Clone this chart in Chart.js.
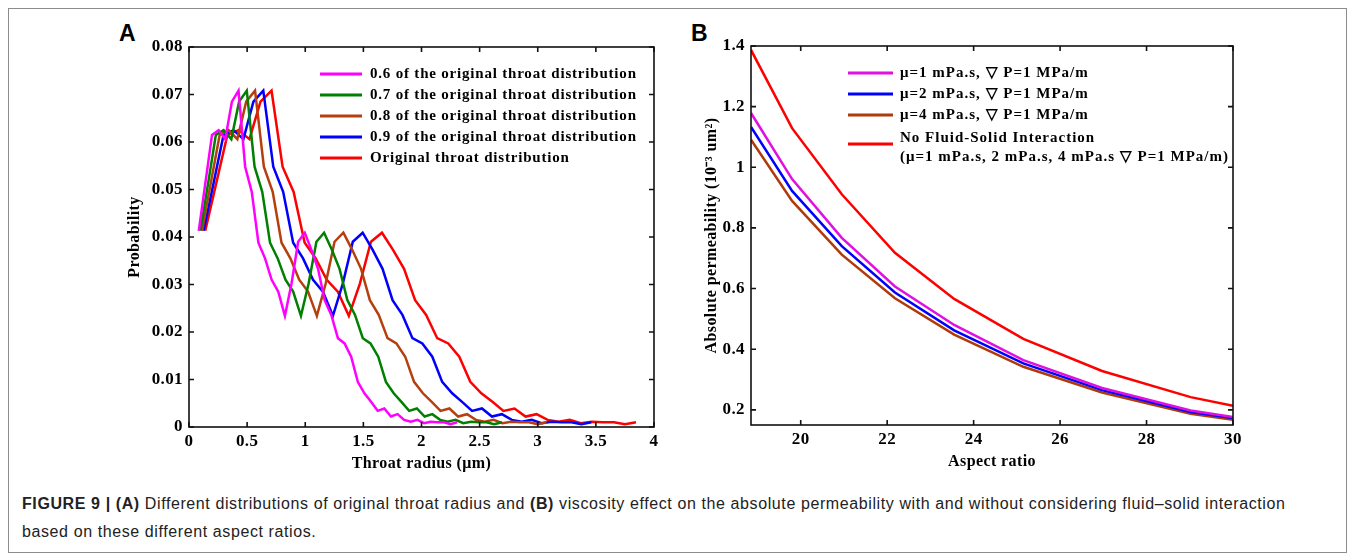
<!DOCTYPE html>
<html>
<head>
<meta charset="utf-8">
<script src="https://cdn.jsdelivr.net/npm/chart.js@4.4.1/dist/chart.umd.min.js"></script>
<style>
  body { margin: 0; background: #fff; width: 1354px; height: 560px; position: relative; overflow: hidden; }
  #frame { position: absolute; left: 8px; top: 8px; width: 1337px; height: 543px; border: 1px solid #8c8c8c; }
  .tag { position: absolute; font: bold 23px "Liberation Sans", Arial, sans-serif; color: #000; }
  #wrapA { position: absolute; left: 0; top: 0; width: 680px; height: 480px; }
  #wrapB { position: absolute; left: 680px; top: 0; width: 674px; height: 480px; }
  #caption { position: absolute; left: 22px; top: 490px; font: 16px/28px "Liberation Sans", Arial, sans-serif; letter-spacing: 0.6px; color: #222; white-space: nowrap; }
</style>
</head>
<body>
<div id="frame"></div>
<div class="tag" style="left:119px;top:20px">A</div>
<div class="tag" style="left:691px;top:20px">B</div>
<div id="wrapA"><canvas id="chartA"></canvas></div>
<div id="wrapB"><canvas id="chartB"></canvas></div>
<div id="caption"><b>FIGURE 9 | (A)</b> Different distributions of original throat radius and <b>(B)</b> viscosity effect on the absolute permeability with and without considering fluid–solid interaction<br>based on these different aspect ratios.</div>
<script>
// panel A: throat radius (um) for each scaled distribution, shared probabilities
const radius06 = [0.084, 0.141, 0.198, 0.255, 0.312, 0.369, 0.426, 0.483, 0.54, 0.597, 0.654, 0.711, 0.768, 0.825, 0.882, 0.939, 0.996, 1.053, 1.11, 1.167, 1.224, 1.281, 1.338, 1.395, 1.452, 1.509, 1.566, 1.623, 1.68, 1.737, 1.794, 1.851, 1.908, 1.965, 2.022, 2.079, 2.136, 2.193, 2.25, 2.307];
const radius07 = [0.098, 0.165, 0.231, 0.298, 0.364, 0.431, 0.497, 0.564, 0.63, 0.697, 0.763, 0.83, 0.896, 0.963, 1.029, 1.096, 1.162, 1.229, 1.295, 1.362, 1.428, 1.495, 1.561, 1.628, 1.694, 1.761, 1.827, 1.894, 1.96, 2.027, 2.093, 2.16, 2.226, 2.293, 2.359, 2.426, 2.492, 2.559, 2.625, 2.692];
const radius08 = [0.112, 0.188, 0.264, 0.34, 0.416, 0.492, 0.568, 0.644, 0.72, 0.796, 0.872, 0.948, 1.024, 1.1, 1.176, 1.252, 1.328, 1.404, 1.48, 1.556, 1.632, 1.708, 1.784, 1.86, 1.936, 2.012, 2.088, 2.164, 2.24, 2.316, 2.392, 2.468, 2.544, 2.62, 2.696, 2.772, 2.848, 2.924, 3.0, 3.076];
const radius09 = [0.126, 0.212, 0.297, 0.383, 0.468, 0.554, 0.639, 0.725, 0.81, 0.896, 0.981, 1.067, 1.152, 1.238, 1.323, 1.409, 1.494, 1.58, 1.665, 1.751, 1.836, 1.922, 2.007, 2.093, 2.178, 2.264, 2.349, 2.435, 2.52, 2.606, 2.691, 2.777, 2.862, 2.948, 3.033, 3.119, 3.204, 3.29, 3.375, 3.461];
const radiusOrig = [0.14, 0.235, 0.33, 0.425, 0.52, 0.615, 0.71, 0.805, 0.9, 0.995, 1.09, 1.185, 1.28, 1.375, 1.47, 1.565, 1.66, 1.755, 1.85, 1.945, 2.04, 2.135, 2.23, 2.325, 2.42, 2.515, 2.61, 2.705, 2.8, 2.895, 2.99, 3.085, 3.18, 3.275, 3.37, 3.465, 3.56, 3.655, 3.75, 3.845];
const probability = [0.0413, 0.0514, 0.0615, 0.0625, 0.0606, 0.0685, 0.0708, 0.0548, 0.0495, 0.0388, 0.0355, 0.031, 0.0285, 0.0234, 0.0302, 0.039, 0.0409, 0.0373, 0.0333, 0.0267, 0.0236, 0.0187, 0.0176, 0.0148, 0.0095, 0.0071, 0.0053, 0.0034, 0.0039, 0.0022, 0.0027, 0.0015, 0.0011, 0.0015, 0.0008, 0.0011, 0.001, 0.001, 0.0006, 0.001];
const labelsA = ["0.6 of the original throat distribution", "0.7 of the original throat distribution", "0.8 of the original throat distribution", "0.9 of the original throat distribution", "Original throat distribution"];
const xTicksA = [0, 0.5, 1, 1.5, 2, 2.5, 3, 3.5, 4];
const yTicksA = [0, 0.01, 0.02, 0.03, 0.04, 0.05, 0.06, 0.07, 0.08];

// panel B: aspect ratio vs absolute permeability
const aspect = [18.85, 19.8, 20.95, 22.18, 23.55, 25.15, 26.97, 29.02, 30];
const perm1 = [1.179, 0.961, 0.767, 0.607, 0.48, 0.364, 0.272, 0.198, 0.176];
const perm2 = [1.133, 0.922, 0.74, 0.587, 0.462, 0.353, 0.265, 0.193, 0.173];
const perm4 = [1.091, 0.889, 0.712, 0.568, 0.448, 0.342, 0.257, 0.187, 0.167];
const permNoFSI = [1.387, 1.129, 0.911, 0.718, 0.566, 0.434, 0.328, 0.242, 0.213];
const labelsB = ["μ=1 mPa.s, ▽ P=1 MPa/m", "μ=2 mPa.s, ▽ P=1 MPa/m", "μ=4 mPa.s, ▽ P=1 MPa/m", "No Fluid-Solid Interaction", "(μ=1 mPa.s, 2 mPa.s, 4 mPa.s ▽ P=1 MPa/m)"];
const xTicksB = [20, 22, 24, 26, 28, 30];
const yTicksB = [0.2, 0.4, 0.6, 0.8, 1, 1.2, 1.4];

const serif = '"Liberation Serif", "Times New Roman", serif';
const pts = (xs, ys) => xs.map((x, i) => ({ x: x, y: ys[i] }));

// slightly spaced lettering like the matlab export
const spacing = {
  id: "spacing",
  beforeDraw(chart) { chart.ctx.letterSpacing = "0.4px"; },
};

// box round the plot area with inward ticks on all four sides
const boxTicks = {
  id: "boxTicks",
  afterDatasetsDraw(chart) {
    const { ctx, chartArea: a, scales } = chart;
    ctx.save();
    ctx.strokeStyle = "#111";
    ctx.lineWidth = 1.6;
    ctx.strokeRect(a.left, a.top, a.right - a.left, a.bottom - a.top);
    ctx.beginPath();
    scales.x.ticks.forEach((t) => {
      const p = scales.x.getPixelForValue(t.value);
      ctx.moveTo(p, a.bottom); ctx.lineTo(p, a.bottom - 5);
      ctx.moveTo(p, a.top); ctx.lineTo(p, a.top + 5);
    });
    scales.y.ticks.forEach((t) => {
      const p = scales.y.getPixelForValue(t.value);
      ctx.moveTo(a.left, p); ctx.lineTo(a.left + 5, p);
      ctx.moveTo(a.right, p); ctx.lineTo(a.right - 5, p);
    });
    ctx.stroke();
    ctx.restore();
  },
};

// legend drawn inside the plot area
const inlineLegend = {
  id: "inlineLegend",
  afterDraw(chart, args, opts) {
    const ctx = chart.ctx;
    ctx.save();
    ctx.font = "bold 15px " + serif;
    ctx.letterSpacing = opts.spacing + "px";
    ctx.textBaseline = "middle";
    ctx.fillStyle = "#000";
    opts.rows.forEach((r) => {
      ctx.strokeStyle = r.color;
      ctx.lineWidth = 3;
      ctx.beginPath();
      ctx.moveTo(opts.x0, r.y);
      ctx.lineTo(opts.x1, r.y);
      ctx.stroke();
      r.text.forEach((t, i) => ctx.fillText(t, opts.tx, r.ty[i]));
    });
    ctx.restore();
  },
};

function axis(min, max, ticks, title, fit, pad) {
  return {
    type: "linear",
    min: min,
    max: max,
    afterBuildTicks: (s) => { s.ticks = ticks.map((v) => ({ value: v })); },
    afterFit: fit,
    grid: { display: false, drawTicks: false },
    border: { display: false },
    ticks: { color: "#000", padding: pad, font: { family: serif, size: 17, weight: "bold" }, callback: (v) => String(v) },
    title: { display: true, text: title, color: "#000", font: { family: serif, size: 16, weight: "bold" } },
  };
}

function line(label, xs, ys, color) {
  return { label: label, data: pts(xs, ys), borderColor: color, borderWidth: 2.5, pointRadius: 0, tension: 0, fill: false };
}

Chart.defaults.font.family = serif;

new Chart(document.getElementById("chartA"), {
  type: "line",
  data: {
    datasets: [
      line(labelsA[0], radius06, probability, "#ff00ff"),
      line(labelsA[1], radius07, probability, "#008000"),
      line(labelsA[2], radius08, probability, "#b5400e"),
      line(labelsA[3], radius09, probability, "#0000ff"),
      line(labelsA[4], radiusOrig, probability, "#ff0000"),
    ],
  },
  options: {
    responsive: true,
    maintainAspectRatio: false,
    animation: false,
    events: [],
    layout: { padding: { left: 121, top: 47, right: 26, bottom: 3 } },
    scales: {
      x: axis(0, 4, xTicksA, "Throat radius (μm)", (s) => { s.height = 50; }, 4),
      y: axis(0, 0.08, yTicksA, "Probability", (s) => { s.width = 68; }, 6),
    },
    plugins: {
      legend: { display: false },
      tooltip: { enabled: false },
      inlineLegend: {
        x0: 320, x1: 362, tx: 370, spacing: 0.8,
        rows: [
          { color: "#ff00ff", y: 74, text: [labelsA[0]], ty: [74] },
          { color: "#008000", y: 95, text: [labelsA[1]], ty: [95] },
          { color: "#b5400e", y: 116, text: [labelsA[2]], ty: [116] },
          { color: "#0000ff", y: 137, text: [labelsA[3]], ty: [137] },
          { color: "#ff0000", y: 158, text: [labelsA[4]], ty: [158] },
        ],
      },
    },
  },
  plugins: [spacing, boxTicks, inlineLegend],
});

new Chart(document.getElementById("chartB"), {
  type: "line",
  data: {
    datasets: [
      line(labelsB[0], aspect, perm1, "#e010e0"),
      line(labelsB[1], aspect, perm2, "#0000ff"),
      line(labelsB[2], aspect, perm4, "#b03a0a"),
      line(labelsB[3], aspect, permNoFSI, "#ff0000"),
    ],
  },
  options: {
    responsive: true,
    maintainAspectRatio: false,
    animation: false,
    events: [],
    layout: { padding: { left: 18, top: 46, right: 121, bottom: 5 } },
    scales: {
      x: axis(18.85, 30, xTicksB, "Aspect ratio", (s) => { s.height = 50; }, 4),
      y: axis(0.15, 1.4, yTicksB, "Absolute permeability (10⁻³ um²)", (s) => { s.width = 53; }, 6),
    },
    plugins: {
      legend: { display: false },
      tooltip: { enabled: false },
      inlineLegend: {
        x0: 168, x1: 213, tx: 220, spacing: 1.0,
        rows: [
          { color: "#e010e0", y: 73, text: [labelsB[0]], ty: [73] },
          { color: "#0000ff", y: 94, text: [labelsB[1]], ty: [94] },
          { color: "#b03a0a", y: 115, text: [labelsB[2]], ty: [115] },
          { color: "#ff0000", y: 144, text: [labelsB[3], labelsB[4]], ty: [138, 157] },
        ],
      },
    },
  },
  plugins: [spacing, boxTicks, inlineLegend],
});
</script>
</body>
</html>
